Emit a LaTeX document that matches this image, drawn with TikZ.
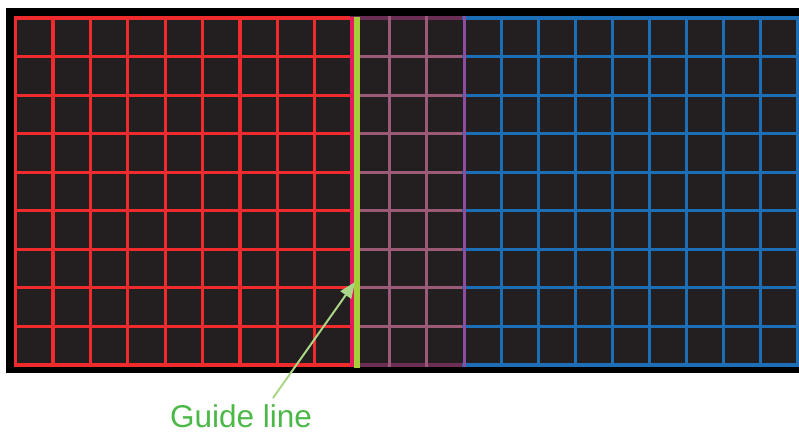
\documentclass[tikz,border=0pt]{standalone}
\usepackage{fontspec}
\setmainfont{Liberation Sans}
\usetikzlibrary{arrows.meta}
\definecolor{gridred}{HTML}{EF2B2D}
\definecolor{gridmauve}{HTML}{9C5A78}
\definecolor{gridmauvedark}{HTML}{6B2F55}
\definecolor{gridblue}{HTML}{1C6FB7}
\definecolor{cellbg}{HTML}{231F20}
\definecolor{crimson}{HTML}{E5195D}
\definecolor{edgepurple}{HTML}{8E4C9E}
\definecolor{guidegreen}{HTML}{A6CE39}
\definecolor{arrowgreen}{HTML}{AAD688}
\definecolor{textgreen}{HTML}{4CB848}
\tikzset{
  gline/.style={line width=3.2pt, line cap=rect},
  redline/.style={gline, draw=gridred},
  mauveline/.style={gline, draw=gridmauve},
  blueline/.style={gline, draw=gridblue},
  guide/.style={draw=guidegreen, line width=6pt},
  pointer/.style={draw=arrowgreen, line width=2pt, -{Triangle[length=16pt,width=13pt]}},
  caption/.style={text=textgreen, font=\fontsize{31.5}{36}\selectfont, anchor=base, inner sep=0pt, text depth=0pt}
}
\begin{document}
\begin{tikzpicture}[x=1pt,y=-1pt]
\useasboundingbox (0,0) rectangle (799,431);
% background
\fill[black] (5.5,8) rectangle (799,372.5);
\fill[cellbg] (15.5,18) rectangle (798,365);
% red grid (9 columns)
\foreach \i in {0,...,9} {
  \draw[redline] ({15.5+37.4*\i},18) -- ({15.5+37.4*\i},365);
}
\foreach \j in {0,...,9} {
  \draw[redline] (15.5,{18+38.55*\j}) -- (352,{18+38.55*\j});
}
% mauve grid (3 columns)
\foreach \j in {1,...,8} {
  \draw[mauveline] (352,{18+38.55*\j}) -- (464,{18+38.55*\j});
}
\draw[gline, draw=gridmauvedark] (352,18) -- (464,18);
\draw[gline, draw=gridmauvedark] (352,365) -- (464,365);
\foreach \i in {1,2} {
  \draw[mauveline] ({352+37.33*\i},18) -- ({352+37.33*\i},365);
}
% blue grid (9 columns)
\foreach \j in {0,...,9} {
  \draw[blueline] (464,{18+38.55*\j}) -- (798,{18+38.55*\j});
}
\foreach \i in {1,...,9} {
  \draw[blueline] ({464+37.1*\i},18) -- ({464+37.1*\i},365);
}
% boundaries
\draw[gline, draw=edgepurple] (464.3,18) -- (464.3,365);
\draw[line width=3.4pt, draw=crimson] (352,16.5) -- (352,367);
% guide line
\draw[guide] (357,16.5) -- (357,368);
% caption and pointer
\coordinate (tip) at (355,282);
\coordinate (tail) at (273,398);
\node[caption] (label) at (241,427) {Guide line};
\draw[pointer] (tail) -- (tip);
\end{tikzpicture}
\end{document}
